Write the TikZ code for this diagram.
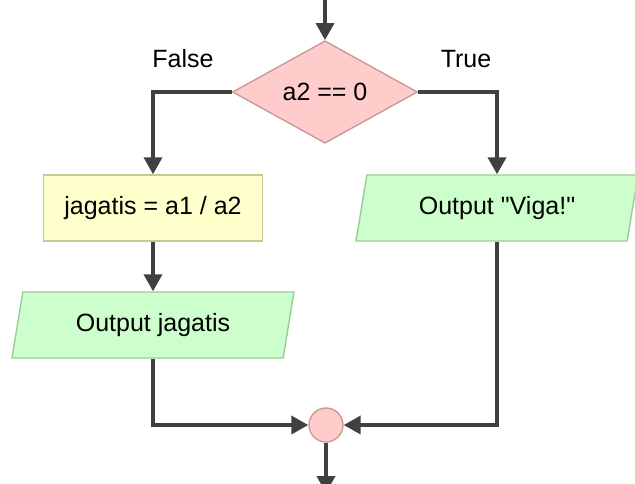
\documentclass[tikz,border=0pt]{standalone}
\usepackage{fontspec}
\setmainfont{Liberation Sans}
\usetikzlibrary{arrows.meta, shapes.geometric}

\definecolor{linie}{HTML}{404040}
\definecolor{rosa}{HTML}{FFCCCC}
\definecolor{rosarand}{HTML}{CC9999}
\definecolor{gelb}{HTML}{FFFFCC}
\definecolor{gelbrand}{HTML}{C8C896}
\definecolor{gruen}{HTML}{CCFFCC}
\definecolor{gruenrand}{HTML}{99CC99}

\begin{document}
\begin{tikzpicture}[x=1pt, y=-1pt,
  font=\fontsize{25}{30}\selectfont,
  pfeil/.style={draw=linie, line width=3.8pt, -{Triangle[length=17pt, width=18pt]}},
  abfrage/.style={diamond, draw=rosarand, fill=rosa, line width=1.4pt, inner sep=0pt,
    minimum width=185pt, minimum height=98pt},
  anweisung/.style={rectangle, draw=gelbrand, fill=gelb, line width=1.4pt,
    minimum width=219pt, minimum height=66pt},
  ausgabe/.style={trapezium, draw=gruenrand, fill=gruen, line width=1.4pt, inner sep=0pt,
    trapezium left angle=65, trapezium right angle=115, trapezium stretches body,
    minimum width=282pt, minimum height=66pt},
  knoten/.style={circle, draw=rosarand, fill=rosa, line width=1.4pt, minimum size=34pt}]
\clip (0,0) rectangle (635,483);
\useasboundingbox (0,0) rectangle (635,483);

% Verzweigung
\coordinate (start) at (325,0);
\node[abfrage] (cond) at (325,92) {a2 == 0};
\node (lfalse) at (183,59) {False};
\node (ltrue) at (466,59) {True};

% Zweige
\node[anweisung] (calc) at (153,208) {jagatis = a1 / a2};
\node[ausgabe] (outj) at (153,325) {Output jagatis};
\node[ausgabe] (viga) at (497,208) {Output \textquotedbl Viga!\textquotedbl};

% Zusammenfuehrung
\node[knoten] (join) at (326,425) {};
\coordinate (ende) at (326,493);

% Pfeile
\draw[pfeil] (start) -- (cond.north);
\draw[pfeil] (cond.west) -| (calc.north);
\draw[pfeil] (cond.east) -| (viga.north);
\draw[pfeil] (calc) -- (outj);
\draw[pfeil] (outj.south) |- (join.west);
\draw[pfeil] (viga.south) |- (join.east);
\draw[pfeil] (join) -- (ende);

\end{tikzpicture}
\end{document}
